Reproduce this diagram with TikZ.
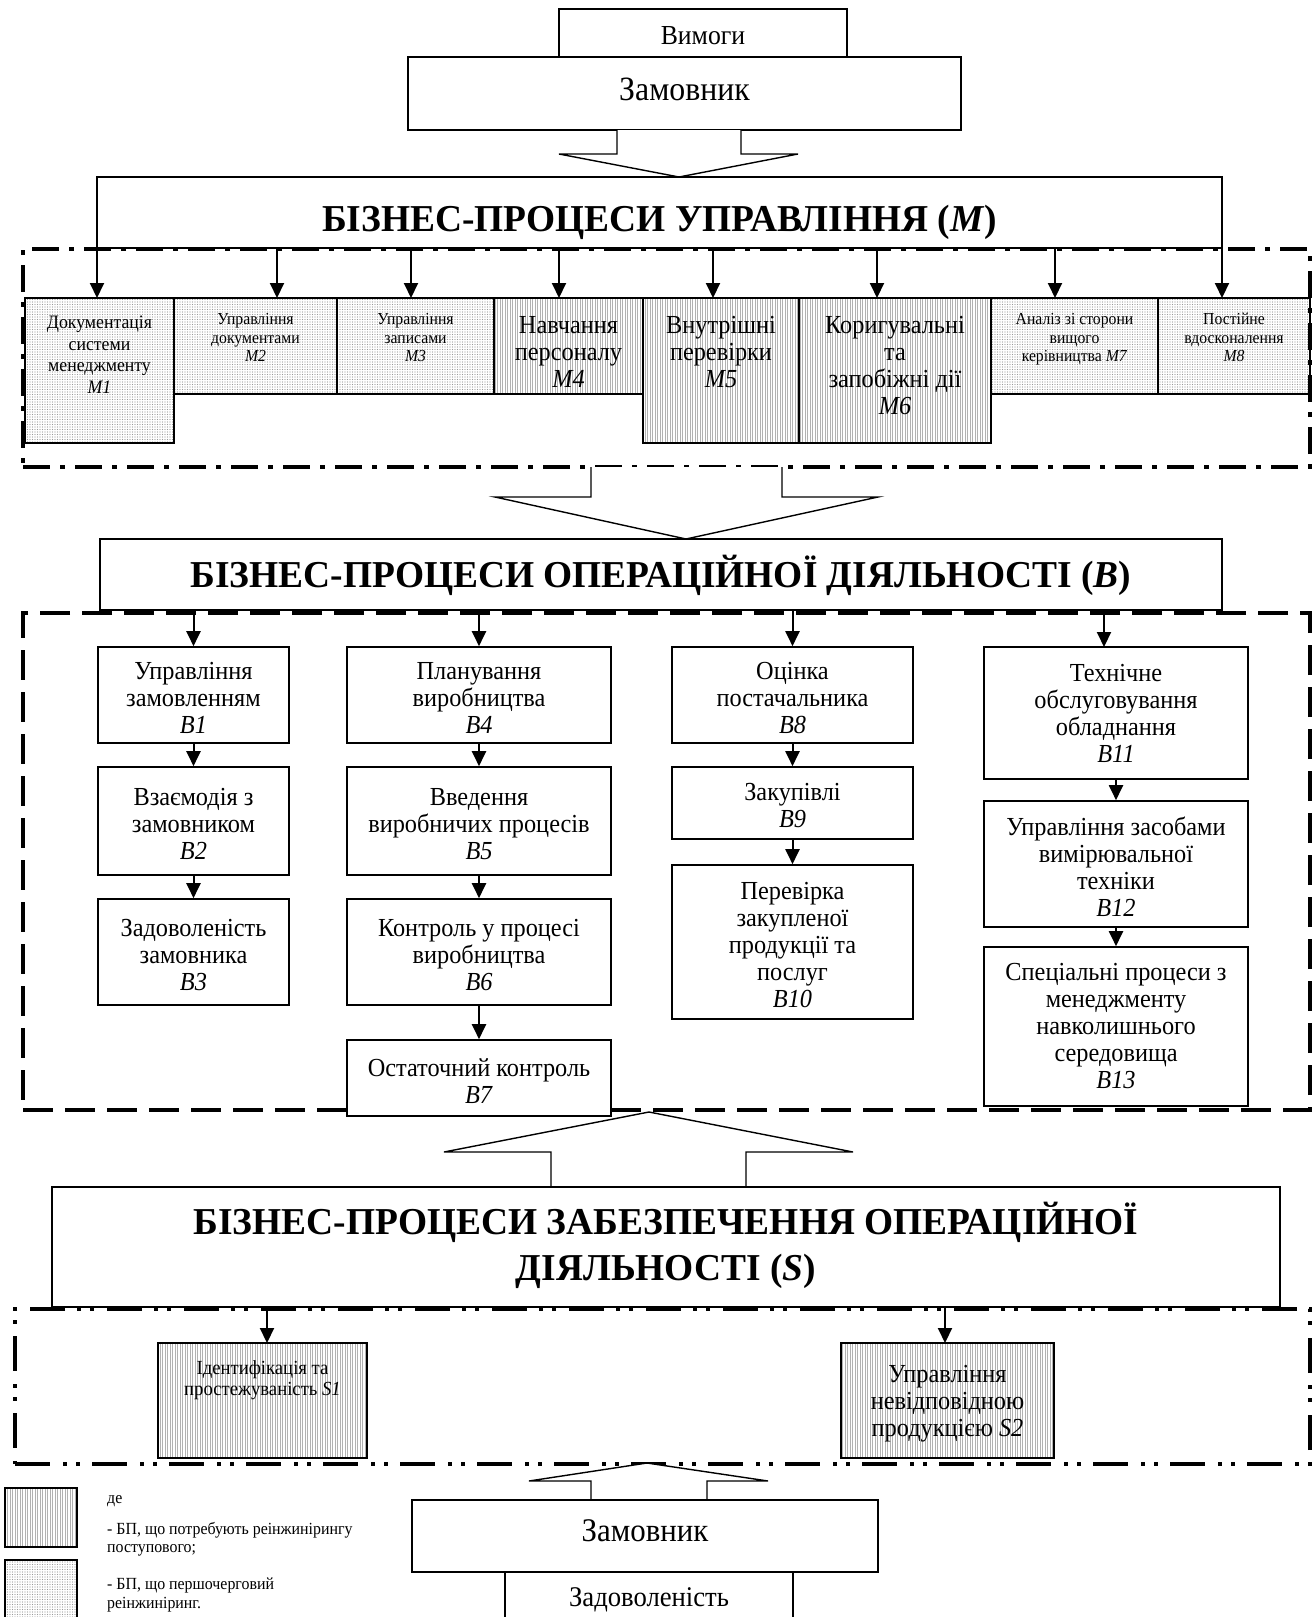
\documentclass[tikz,border=0pt]{standalone}
\usepackage{fontspec}
\setmainfont{Liberation Serif}[FakeStretch=0.935]
\newfontfamily\ttlfont{Liberation Serif}[FakeStretch=0.985]
\usetikzlibrary{arrows.meta,patterns.meta,calc}
\newcommand\fs[2]{\fontsize{#1}{#2}\selectfont}
% empty box from corners: [style]{name}{x1}{y1}{x2}{y2}
\newcommand\rboxe[6][]{\node[bx,#1,minimum width={#5-#3},minimum height={#6-#4}] (#2) at ({(#3+#5)/2},{(#4+#6)/2}) {};}
% box with centred text: [style]{name}{x1}{y1}{x2}{y2}{text style}{text}
\newcommand\rbox[8][]{\rboxe[#1]{#2}{#3}{#4}{#5}{#6}\node[txt,#7] (#2t) at ($(#2.center)+(0,3)$) {#8};}
\tikzset{
  bx/.style={draw, line width=1.6pt, inner sep=0pt},
  tbox/.style={draw, line width=1.4pt, inner sep=0pt, fill=white},
  arr/.style={line width=2pt, -{Triangle[length=15pt,width=14pt]}},
  hollow/.style={draw, line width=1.4pt, fill=white, line join=miter},
  vlines/.style={pattern={Lines[angle=90,distance=2.5pt,line width=0.5pt]}, pattern color=black!30},
  dotsf/.style={pattern={Dots[distance=2.5pt,radius=0.7pt]}, pattern color=black!40},
  big/.style={font=\fs{26}{27}},
  mid/.style={font=\fs{19}{21.5}},
  small/.style={font=\fs{16.8}{18.5}},
  ttl/.style={font=\ttlfont\fs{38}{46}\bfseries},
  frm/.style={draw, line width=4.5pt, inner sep=0pt},
  txt/.style={inner sep=0pt, align=center},
}
\begin{document}
\begin{tikzpicture}[x=1pt,y=-1pt]
\useasboundingbox (0,0) rectangle (1314,1617);

% ---------- top: customer ----------
\rboxe[tbox]{vym}{559}{9}{847}{57}
\node[txt,font=\fs{27.5}{29}] (vymt) at ($(vym.center)+(0,3)$) {Вимоги};
\rboxe[tbox]{zam1}{408}{57}{961}{130}
\node[txt,font=\fs{34}{36}] (zam1t) at ($(zam1.center)+(0,-4)$) {Замовник};

\coordinate (h1a) at (617,130);
\coordinate (h1b) at (741,130);
\coordinate (h1t) at (679,177);
\draw[hollow] (h1a) -- (617,154) -- (559,154) -- (h1t) -- (798,154) -- (741,154) -- (h1b);

% ---------- frame M ----------
\node[frm, dash pattern=on 27pt off 10pt on 5pt off 10pt, minimum width=1287, minimum height=218] (FM) at (666.5,358) {};

\rboxe[tbox]{bpm}{97}{177}{1222}{248}
\node[txt,ttl] (bpmt) at ($(bpm.center)+(0,10)$) {БІЗНЕС-ПРОЦЕСИ УПРАВЛІННЯ (\textit{M})};

% M boxes
\rboxe[dotsf]{M1}{25}{298}{174}{443}
\rboxe[dotsf]{M2}{174}{298}{337}{394}
\rboxe[dotsf]{M3}{337}{298}{494}{394}
\rboxe[vlines]{M4}{494}{298}{643}{394}
\rboxe[vlines]{M5}{643}{298}{799}{443}
\rboxe[vlines]{M6}{799}{298}{991}{443}
\rboxe[dotsf]{M7}{991}{298}{1158}{394}
\rboxe[dotsf]{M8}{1158}{298}{1310}{394}

\node[txt,mid,anchor=north] (M1t) at ($(M1.north)+(0,19)$) {Документація\\системи\\менеджменту\\\textit{M1}};
\node[txt,small,anchor=north] (M2t) at ($(M2.north)+(0,16)$) {Управління\\документами\\\textit{M2}};
\node[txt,small,anchor=north] (M3t) at ($(M3.north)+(0,16)$) {Управління\\записами\\\textit{M3}};
\node[txt,big,anchor=north] (M4t) at ($(M4.north)+(0,19)$) {Навчання\\персоналу\\\textit{M4}};
\node[txt,big,anchor=north] (M5t) at ($(M5.north)+(0,19)$) {Внутрішні\\перевірки\\\textit{M5}};
\node[txt,big,anchor=north] (M6t) at ($(M6.north)+(0,19)$) {Коригувальні\\та\\запобіжні дії\\\textit{M6}};
\node[txt,small,anchor=north] (M7t) at ($(M7.north)+(0,16)$) {Аналіз зі сторони\\вищого\\керівництва \textit{M7}};
\node[txt,small,anchor=north] (M8t) at ($(M8.north)+(0,16)$) {Постійне\\вдосконалення\\\textit{M8}};

% M arrows
\foreach \n/\x in {1/97,2/277,3/411,4/559,5/713,6/877,7/1055,8/1222}{
  \coordinate (ma\n) at (\x,298);
  \draw[arr] (ma\n |- bpm.south) -- (ma\n);
}

% ---------- hollow arrow 2 ----------
\coordinate (h2a) at (591,467);
\coordinate (h2b) at (782,467);
\coordinate (h2t) at (686,539);
\draw[hollow] (h2a) -- (591,497) -- (495,497) -- (h2t) -- (878,497) -- (782,497) -- (h2b);

% ---------- frame B ----------
\node[frm, dash pattern=on 30pt off 12pt, minimum width=1287, minimum height=497] (FB) at (666.5,861.5) {};

\rboxe[tbox]{bpb}{100}{539}{1222}{610}
\node[txt,ttl] (bpbt) at ($(bpb.center)+(0,1)$) {БІЗНЕС-ПРОЦЕСИ ОПЕРАЦІЙНОЇ ДІЯЛЬНОСТІ (\textit{B})};

\rbox{B1}{98}{647}{289}{743}{big}{Управління\\замовленням\\\textit{B1}}
\rbox{B2}{98}{767}{289}{875}{big}{Взаємодія з\\замовником\\\textit{B2}}
\rbox{B3}{98}{899}{289}{1005}{big}{Задоволеність\\замовника\\\textit{B3}}
\rbox{B4}{347}{647}{611}{743}{big}{Планування\\виробництва\\\textit{B4}}
\rbox{B5}{347}{767}{611}{875}{big}{Введення\\виробничих процесів\\\textit{B5}}
\rbox{B6}{347}{899}{611}{1005}{big}{Контроль у процесі\\виробництва\\\textit{B6}}
\rbox[fill=white]{B7}{347}{1040}{611}{1116}{big}{Остаточний контроль\\\textit{B7}}
\rbox{B8}{672}{647}{913}{743}{big}{Оцінка\\постачальника\\\textit{B8}}
\rbox{B9}{672}{767}{913}{839}{big}{Закупівлі\\\textit{B9}}
\rbox{B10}{672}{865}{913}{1019}{big}{Перевірка\\закупленої\\продукції та\\послуг\\\textit{B10}}
\rbox{B11}{984}{647}{1248}{779}{big,yshift=3pt}{Технічне\\обслуговування\\обладнання\\\textit{B11}}
\rbox{B12}{984}{801}{1248}{927}{big}{Управління засобами\\вимірювальної\\техніки\\\textit{B12}}
\rbox{B13}{984}{947}{1248}{1106}{big,yshift=3pt}{Спеціальні процеси з\\менеджменту\\навколишнього\\середовища\\\textit{B13}}

\draw[arr] (B1.north |- bpb.south) -- (B1.north);
\draw[arr] (B4.north |- bpb.south) -- (B4.north);
\draw[arr] (B8.north |- bpb.south) -- (B8.north);
\coordinate (b11in) at (1104,647);
\draw[arr] (b11in |- bpb.south) -- (b11in);
\draw[arr] (B1.south) -- (B2.north);
\draw[arr] (B2.south) -- (B3.north);
\draw[arr] (B4.south) -- (B5.north);
\draw[arr] (B5.south) -- (B6.north);
\draw[arr] (B6.south) -- (B7.north);
\draw[arr] (B8.south) -- (B9.north);
\draw[arr] (B9.south) -- (B10.north);
\draw[arr] (B11.south) -- (B12.north);
\draw[arr] (B12.south) -- (B13.north);

% ---------- hollow arrow 3 (up) ----------
\coordinate (h3a) at (551,1187);
\coordinate (h3b) at (746,1187);
\coordinate (h3t) at (649,1112);
\draw[hollow] (h3a) -- (551,1152) -- (444,1152) -- (h3t) -- (853,1152) -- (746,1152) -- (h3b);

% ---------- frame S ----------
\node[frm, dash pattern=on 35pt off 13pt on 4pt off 9pt on 4pt off 12pt, minimum width=1295, minimum height=155] (FS) at (662.5,1386.5) {};

\rboxe[tbox]{bps}{52}{1187}{1280}{1307}
\node[txt,ttl] (bpst) at ($(bps.center)+(0,-2)$) {БІЗНЕС-ПРОЦЕСИ ЗАБЕЗПЕЧЕННЯ ОПЕРАЦІЙНОЇ\\ДІЯЛЬНОСТІ (\textit{S})};

\rboxe[vlines]{S1}{158}{1343}{367}{1458}
\node[txt,font=\fs{20}{21},anchor=north] (S1t) at ($(S1.north)+(0,18)$) {Ідентифікація та\\простежуваність \textit{S1}};
\rbox[vlines]{S2}{841}{1343}{1054}{1458}{big}{Управління\\невідповідною\\продукцією \textit{S2}}

\coordinate (s1in) at (267,1343);
\coordinate (s2in) at (945,1343);
\draw[arr] (s1in |- bps.south) -- (s1in);
\draw[arr] (s2in |- bps.south) -- (s2in);

% ---------- bottom customer ----------
\coordinate (h4a) at (591,1500);
\coordinate (h4b) at (707,1500);
\coordinate (h4t) at (647,1463);
\draw[hollow] (h4a) -- (591,1481) -- (529,1481) -- (h4t) -- (768,1481) -- (707,1481) -- (h4b);

\rboxe[tbox]{zam2}{412}{1500}{878}{1572}
\node[txt,font=\fs{33}{35}] (zam2t) at ($(zam2.center)+(0,-5)$) {Замовник};
\node[tbox,minimum width=288,minimum height=60,anchor=north] (zad) at (649,1572) {};
\node[txt,font=\fs{28.5}{30}] (zadt) at (649,1600) {Задоволеність};

% ---------- legend ----------
\rboxe[vlines,line width=2pt]{L1}{5}{1488}{77}{1547}
\rboxe[dotsf,line width=2pt]{L2}{5}{1560}{77}{1630}
\node[txt,font=\fs{17}{18.5},anchor=west] (Lde) at (107,1501) {де};
\node[txt,font=\fs{17}{18.5},anchor=west,align=left] (La) at (107,1539) {- БП, що потребують реінжинірингу\\поступового;};
\node[txt,font=\fs{17}{18.5},anchor=west,align=left] (Lb) at (107,1595) {- БП, що першочерговий\\реінжиніринг.};
\end{tikzpicture}
\end{document}
